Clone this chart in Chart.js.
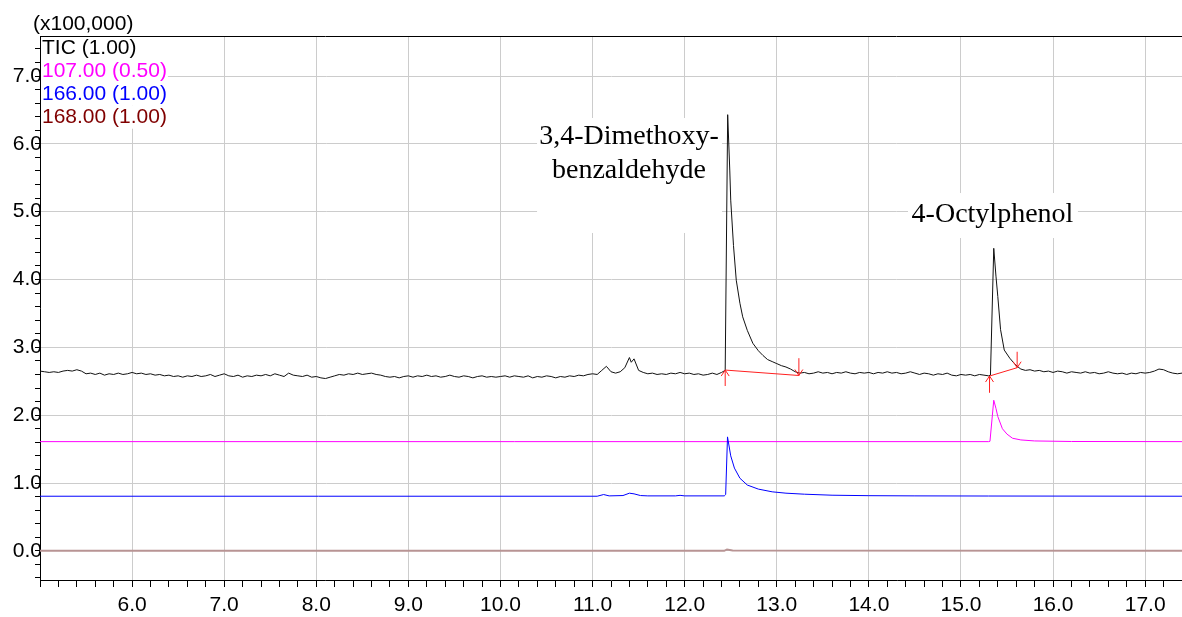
<!DOCTYPE html>
<html>
<head>
<meta charset="utf-8">
<script src="https://cdn.jsdelivr.net/npm/chart.js@4.4.1/dist/chart.umd.min.js"></script>
<style>
  html, body { margin: 0; padding: 0; background: #fff; }
  #wrap { width: 1182px; height: 617px; }
</style>
</head>
<body>
<div id="wrap"><canvas id="chrom" width="1182" height="617"></canvas></div>
<script>
// retention time (min) / intensity (x100,000)
const ticPoints = [
  [5.00,2.65],[5.05,2.64],[5.10,2.63],[5.15,2.64],[5.20,2.63],[5.25,2.65],[5.30,2.66],[5.35,2.65],[5.40,2.67],[5.45,2.65],
  [5.50,2.61],[5.55,2.62],[5.60,2.60],[5.65,2.62],[5.70,2.59],[5.75,2.61],[5.80,2.60],[5.85,2.62],[5.90,2.60],[5.95,2.61],
  [6.00,2.63],[6.05,2.61],[6.10,2.62],[6.15,2.60],[6.20,2.61],[6.25,2.59],[6.30,2.60],[6.35,2.58],[6.40,2.59],[6.45,2.57],
  [6.50,2.58],[6.55,2.56],[6.60,2.58],[6.65,2.57],[6.70,2.59],[6.75,2.57],[6.80,2.58],[6.85,2.60],[6.90,2.57],[6.95,2.59],
  [7.00,2.61],[7.05,2.58],[7.10,2.57],[7.15,2.59],[7.20,2.56],[7.25,2.58],[7.30,2.57],[7.35,2.59],[7.40,2.58],[7.45,2.60],
  [7.50,2.58],[7.55,2.61],[7.60,2.59],[7.65,2.57],[7.70,2.62],[7.75,2.59],[7.80,2.58],[7.85,2.57],[7.90,2.59],[7.95,2.56],
  [8.00,2.57],[8.05,2.55],[8.10,2.54],[8.15,2.56],[8.20,2.58],[8.25,2.60],[8.30,2.59],[8.35,2.61],[8.40,2.60],[8.45,2.62],
  [8.50,2.60],[8.55,2.61],[8.60,2.62],[8.65,2.60],[8.70,2.59],[8.75,2.57],[8.80,2.56],[8.85,2.57],[8.90,2.55],[8.95,2.57],
  [9.00,2.58],[9.05,2.56],[9.10,2.58],[9.15,2.57],[9.20,2.59],[9.25,2.57],[9.30,2.58],[9.35,2.56],[9.40,2.57],[9.45,2.59],
  [9.50,2.57],[9.55,2.56],[9.60,2.58],[9.65,2.57],[9.70,2.55],[9.75,2.57],[9.80,2.58],[9.85,2.56],[9.90,2.57],[9.95,2.56],
  [10.00,2.57],[10.05,2.58],[10.10,2.56],[10.15,2.58],[10.20,2.57],[10.25,2.56],[10.30,2.58],[10.35,2.55],[10.40,2.57],[10.45,2.56],
  [10.50,2.58],[10.55,2.57],[10.60,2.55],[10.65,2.57],[10.70,2.56],[10.75,2.58],[10.80,2.57],[10.85,2.59],[10.90,2.58],[10.95,2.60],
  [11.00,2.61],[11.05,2.60],[11.10,2.66],[11.15,2.72],[11.20,2.64],[11.25,2.62],[11.30,2.64],[11.35,2.70],[11.40,2.85],[11.42,2.78],
  [11.45,2.83],[11.50,2.66],[11.55,2.63],[11.60,2.61],[11.65,2.62],[11.70,2.60],[11.75,2.61],[11.80,2.60],[11.85,2.62],[11.90,2.61],
  [11.95,2.63],[12.00,2.61],[12.05,2.62],[12.10,2.60],[12.15,2.61],[12.20,2.59],[12.25,2.60],[12.30,2.62],[12.35,2.60],[12.40,2.63],
  [12.44,2.66],[12.467,6.43],[12.49,5.60],[12.50,5.17],[12.53,4.50],[12.56,3.99],[12.60,3.65],[12.63,3.45],[12.68,3.25],[12.74,3.06],
  [12.80,2.95],[12.85,2.88],[12.90,2.82],[12.95,2.79],[13.00,2.76],[13.05,2.73],[13.10,2.71],[13.15,2.68],[13.20,2.64],[13.25,2.62],
  [13.30,2.63],[13.35,2.61],[13.40,2.62],[13.45,2.64],[13.50,2.62],[13.55,2.63],[13.60,2.61],[13.65,2.63],[13.70,2.62],[13.75,2.64],
  [13.80,2.62],[13.85,2.61],[13.90,2.63],[13.95,2.62],[14.00,2.63],[14.05,2.61],[14.10,2.63],[14.15,2.62],[14.20,2.64],[14.25,2.62],
  [14.30,2.63],[14.35,2.61],[14.40,2.62],[14.45,2.64],[14.50,2.62],[14.55,2.60],[14.60,2.62],[14.65,2.61],[14.70,2.59],[14.75,2.61],
  [14.80,2.60],[14.85,2.62],[14.90,2.59],[14.95,2.58],[15.00,2.60],[15.05,2.59],[15.10,2.60],[15.15,2.58],[15.20,2.60],[15.25,2.59],
  [15.30,2.58],[15.32,2.59],[15.356,4.46],[15.38,4.05],[15.40,3.75],[15.43,3.26],[15.47,2.96],[15.53,2.84],[15.58,2.76],[15.62,2.71],
  [15.65,2.68],[15.70,2.66],[15.75,2.67],[15.80,2.65],[15.85,2.66],[15.90,2.64],[15.95,2.65],[16.00,2.63],[16.05,2.65],[16.10,2.64],
  [16.15,2.62],[16.20,2.64],[16.25,2.63],[16.30,2.62],[16.35,2.64],[16.40,2.62],[16.45,2.63],[16.50,2.61],[16.55,2.62],[16.60,2.64],
  [16.65,2.62],[16.70,2.61],[16.75,2.62],[16.80,2.60],[16.85,2.62],[16.90,2.61],[16.95,2.63],[17.00,2.62],[17.05,2.63],[17.10,2.65],
  [17.15,2.68],[17.20,2.67],[17.25,2.64],[17.30,2.62],[17.35,2.61],[17.40,2.62]
];
const ion107Points = [
  [5.00,1.61],[15.30,1.61],[15.315,1.615],[15.356,2.22],[15.38,2.10],[15.40,1.98],[15.45,1.80],
  [15.50,1.72],[15.56,1.66],[15.65,1.635],[15.80,1.62],[16.20,1.612],[17.40,1.61]
];
const ion166Points = [
  [5.00,0.805],[11.05,0.805],[11.12,0.83],[11.18,0.81],[11.33,0.815],[11.40,0.85],[11.45,0.84],[11.52,0.815],
  [11.60,0.81],[11.90,0.81],[11.95,0.818],[12.00,0.81],[12.43,0.81],[12.445,0.83],[12.465,1.68],[12.50,1.40],
  [12.54,1.22],[12.60,1.07],[12.68,0.97],[12.80,0.91],[12.95,0.87],[13.10,0.85],[13.30,0.835],[13.60,0.82],
  [14.00,0.813],[14.50,0.81],[15.30,0.808],[17.40,0.805]
];
const ion168Points = [
  [5.00,0.0],[12.43,0.0],[12.46,0.02],[12.52,0.005],[17.40,0.0]
];
// integration baselines: [startTime, startValue, endTime, endValue]
const peakBaselines = [[12.44, 2.665, 13.24, 2.585], [15.31, 2.577, 15.61, 2.70]];
// arrow tails for the start (up) and end (down) markers
const arrowTails = [[2.43, 2.84], [2.33, 2.935]];

const traceLabels = ['TIC (1.00)', '107.00 (0.50)', '166.00 (1.00)', '168.00 (1.00)'];
const traceColors = ['#000000', '#ff00ff', '#0000ff', '#800000'];
const unitLabel = '(x100,000)';
const peakNames = [['3,4-Dimethoxy-', 'benzaldehyde'], ['4-Octylphenol']];

// label boxes in axis units: t0..t1, v0..v1, text centre and line baselines
const labelLayout = [
  { t0: 10.397, t1: 12.405, v0: 4.686, v1: 6.381, tc: 11.395, base: [5.993, 5.492] },
  { t0: 14.425, t1: 16.27, v0: 4.612, v1: 5.275, tc: 15.342, base: [4.852] }
];

const sansFont = '"Liberation Sans", Arial, sans-serif';
const serifFont = '"Liberation Serif", "Times New Roman", serif';

const isWhole = v => Math.abs(v - Math.round(v)) < 1e-6;
const toXY = pts => pts.map(([x, y]) => ({ x, y }));

const overlay = {
  id: 'overlay',
  beforeDatasetsDraw(chart) {
    const { ctx, chartArea, scales: { x, y } } = chart;
    ctx.save();
    ctx.fillStyle = '#ffffff';
    labelLayout.forEach(b => {
      const x0 = x.getPixelForValue(b.t0), x1 = x.getPixelForValue(b.t1);
      const y0 = y.getPixelForValue(b.v1), y1 = y.getPixelForValue(b.v0);
      ctx.fillRect(x0, y0, x1 - x0, y1 - y0);
    });
    ctx.font = '21px ' + sansFont;
    traceLabels.forEach((s, i) => {
      const w = ctx.measureText(s).width;
      ctx.fillRect(chartArea.left + 1, chartArea.top + 1 + i * 22.9, w + 2, 23);
    });
    ctx.restore();
  },
  afterDatasetsDraw(chart) {
    const { ctx, chartArea, scales: { x, y } } = chart;
    ctx.save();

    // top frame line
    ctx.strokeStyle = '#000';
    ctx.lineWidth = 1;
    ctx.beginPath();
    ctx.moveTo(chartArea.left, chartArea.top + 0.5);
    ctx.lineTo(chartArea.right, chartArea.top + 0.5);
    ctx.stroke();

    // integration baselines and arrows
    ctx.strokeStyle = '#ff2020';
    peakBaselines.forEach((p, i) => {
      const xa = x.getPixelForValue(p[0]), ya = y.getPixelForValue(p[1]);
      const xb = x.getPixelForValue(p[2]), yb = y.getPixelForValue(p[3]);
      const ta = y.getPixelForValue(arrowTails[i][0]);
      const tb = y.getPixelForValue(arrowTails[i][1]);
      ctx.beginPath();
      ctx.moveTo(xa, ya); ctx.lineTo(xb, yb);
      // up arrow at start
      ctx.moveTo(xa, ta); ctx.lineTo(xa, ya);
      ctx.moveTo(xa - 4, ya + 6); ctx.lineTo(xa, ya); ctx.lineTo(xa + 4, ya + 6);
      // down arrow at end
      ctx.moveTo(xb, tb); ctx.lineTo(xb, yb);
      ctx.moveTo(xb - 4, yb - 6); ctx.lineTo(xb, yb); ctx.lineTo(xb + 4, yb - 6);
      ctx.stroke();
    });

    // peak names
    ctx.fillStyle = '#000';
    ctx.font = '28px ' + serifFont;
    ctx.textAlign = 'center';
    ctx.textBaseline = 'alphabetic';
    labelLayout.forEach((b, i) => {
      const cx = x.getPixelForValue(b.tc);
      peakNames[i].forEach((line, j) => {
        ctx.fillText(line, cx, y.getPixelForValue(b.base[j]));
      });
    });

    // trace legend and unit
    ctx.font = '21px ' + sansFont;
    ctx.textAlign = 'left';
    ctx.fillStyle = '#000';
    ctx.fillText(unitLabel, chartArea.left - 7, chartArea.top - 6.5);
    traceLabels.forEach((s, i) => {
      ctx.fillStyle = traceColors[i];
      ctx.fillText(s, chartArea.left + 2, chartArea.top + 18 + i * 22.9);
    });
    ctx.restore();
  }
};

const line = (pts, color, width) => ({
  data: toXY(pts), borderColor: color, borderWidth: width,
  pointRadius: 0, tension: 0, fill: false
});

// drop the label overhang padding so the plot runs to the canvas edge
const noOverhang = s => { s.paddingLeft = 0; s.paddingRight = 0; s.paddingTop = 0; s.paddingBottom = 0; };

new Chart(document.getElementById('chrom'), {
  type: 'line',
  data: {
    datasets: [
      line(ion168Points, '#b89494', 2),
      line(ion166Points, '#0000ff', 1),
      line(ion107Points, '#ff00ff', 1),
      line(ticPoints, '#111111', 1)
    ]
  },
  options: {
    responsive: false,
    animation: false,
    events: [],
    layout: { padding: { top: 36, right: 0, bottom: 0, left: 0 } },
    plugins: { legend: { display: false }, tooltip: { enabled: false } },
    scales: {
      x: {
        type: 'linear', min: 5.0, max: 17.4,
        afterFit: s => { s.height = 37; noOverhang(s); },
        border: { color: '#000', width: 1 },
        grid: {
          color: c => isWhole(c.tick.value) ? '#cccccc' : 'rgba(0,0,0,0)',
          tickColor: '#000', tickLength: 7, lineWidth: 1
        },
        ticks: {
          stepSize: 0.2, autoSkip: false, maxRotation: 0, includeBounds: false,
          padding: 6, color: '#000', font: { family: sansFont, size: 21 },
          callback: v => (isWhole(v) && Math.round(v) !== 5) ? v.toFixed(1) : ''
        }
      },
      y: {
        type: 'linear', min: -0.43, max: 7.59,
        afterFit: s => { s.width = 40; noOverhang(s); },
        border: { color: '#000', width: 1 },
        grid: {
          color: c => isWhole(c.tick.value) ? '#cccccc' : 'rgba(0,0,0,0)',
          tickColor: '#000', tickLength: 5, lineWidth: 1
        },
        ticks: {
          stepSize: 0.2, autoSkip: false, includeBounds: false,
          padding: -7, color: '#000', font: { family: sansFont, size: 21 },
          callback: v => isWhole(v) ? v.toFixed(1) : ''
        }
      }
    }
  },
  plugins: [overlay]
});
</script>
</body>
</html>
